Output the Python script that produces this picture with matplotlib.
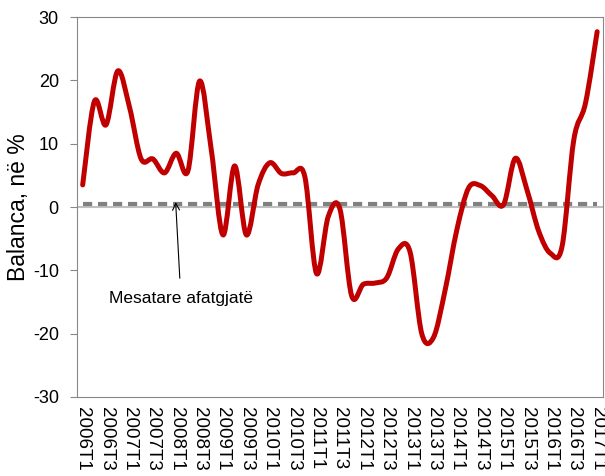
import matplotlib.pyplot as plt
import numpy as np
from matplotlib.path import Path
from matplotlib.patches import PathPatch

plt.rcParams['font.family'] = ['Liberation Sans', 'DejaVu Sans']
plt.rcParams['axes.unicode_minus'] = False

years = range(2006, 2018)
quarters = [f'{y}T{q}' for y in years for q in (1, 2, 3, 4)][:45]
balanca = [3.5, 16.7, 13.0, 21.5, 15.8, 7.6, 7.6, 5.4, 8.5, 5.7,
           19.9, 9.0, -4.4, 6.5, -4.4, 3.5, 7.0, 5.3, 5.4, 4.8,
           -10.5, -1.5, -0.3, -14.0, -12.2, -12.0, -11.2, -6.6, -7.1, -20.0,
           -20.6, -13.1, -3.6, 3.0, 3.4, 1.8, 0.4, 7.7, 2.7, -3.8,
           -7.3, -6.2, 10.6, 16.4, 27.7]
mesatare = 0.5


def smooth_path(x, y):
    # bezier through the points, like excel's smoothed line
    pts = np.column_stack([x, y])
    verts = [pts[0]]
    codes = [Path.MOVETO]
    n = len(pts)
    for i in range(n - 1):
        p0 = pts[max(i - 1, 0)]
        p1 = pts[i]
        p2 = pts[i + 1]
        p3 = pts[min(i + 2, n - 1)]
        c1 = p1 + (p2 - p0) / 6
        c2 = p2 - (p3 - p1) / 6
        verts += [c1, c2, p2]
        codes += [Path.CURVE4] * 3
    return Path(verts, codes)


fig = plt.figure(figsize=(6.05, 4.76), dpi=100)
ax = fig.add_axes([0.127, 0.166, 0.8697, 0.798])

x = np.arange(len(balanca))
ax.axhline(0, color='#c0c0c0', lw=1.5, zorder=1)
ax.plot([x[0], x[-1]], [mesatare, mesatare], color='#808080', lw=3,
        ls=(0, (2.2, 1.4)), zorder=2)
ax.add_patch(PathPatch(smooth_path(x, balanca), fill=False,
                       edgecolor='#c00000', lw=3.6, capstyle='round',
                       joinstyle='round', zorder=3))

ax.annotate('Mesatare afatgjatë', xy=(7.95, 0.8), xytext=(8.4, -14.4),
            ha='center', va='center', fontsize=12.5,
            arrowprops=dict(arrowstyle='->', color='black', lw=0.8,
                            shrinkA=7, shrinkB=0))

ax.set_xlim(-0.5, len(balanca) - 0.5)
ax.set_ylim(-30, 30)
ax.set_yticks(range(-30, 31, 10))
ax.set_xticks(x[::2])
ax.set_xticklabels(quarters[::2], rotation=270, fontsize=13.5)
ax.tick_params(axis='x', length=0, pad=7)
ax.tick_params(axis='y', length=5, color='#888888', labelsize=13, pad=8)
for s in ax.spines.values():
    s.set_color('#888888')
ax.set_ylabel('Balanca, në %', fontsize=16.5)
ax.yaxis.set_label_coords(-0.089, 0.5)

fig.savefig('out.png', dpi=100)
